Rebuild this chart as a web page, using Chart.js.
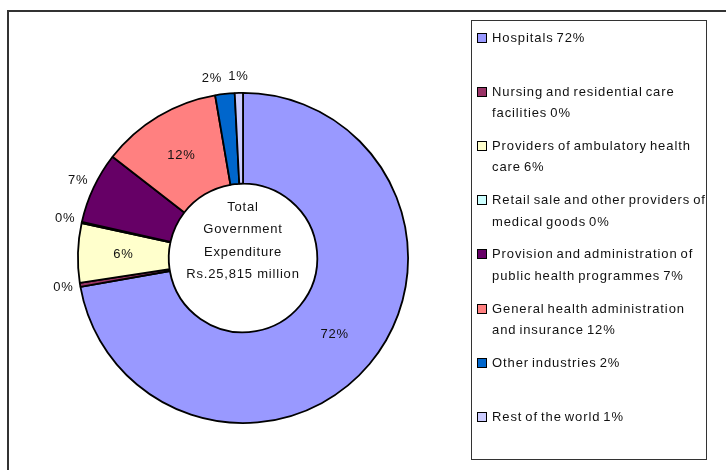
<!DOCTYPE html>
<html>
<head>
<meta charset="utf-8">
<script src="https://cdn.jsdelivr.net/npm/chart.js@4.4.1/dist/chart.umd.min.js"></script>
<style>
  html, body { margin: 0; padding: 0; background: #fff; overflow: hidden; }
  #wrap { position: relative; width: 726px; height: 470px; font-family: "Liberation Sans", Arial, sans-serif; color: #111; }
  #frame { position: absolute; left: 7px; top: 10px; width: 800px; height: 500px; border-top: 2px solid #333; border-left: 2px solid #333; }
  #chart { position: absolute; left: 0; top: 0; }
  #legend { position: absolute; left: 471px; top: 20px; width: 236px; height: 440px; border: 1px solid #333; box-sizing: border-box; }
  .item { position: absolute; left: 5px; width: 232px; font-size: 13px; line-height: 21.5px; letter-spacing: 0.9px; word-spacing: -1.5px; }
  .box { position: absolute; left: 0; top: 6px; width: 8px; height: 8px; border: 1px solid #000; }
  .txt { margin-left: 15px; }
</style>
</head>
<body>
<div id="wrap">
  <div id="frame"></div>
  <canvas id="chart" width="726" height="470"></canvas>
  <div id="legend"></div>
</div>
<script>
// Health expenditure shares (%) of total government expenditure
const categories = [
  'Hospitals',
  'Nursing and residential care facilities',
  'Providers of ambulatory health care',
  'Retail sale and other providers of medical goods',
  'Provision and administration of public health programmes',
  'General health administration and insurance',
  'Other industries',
  'Rest of the world'
];
const shares = [72.2, 0.4, 5.8, 0.1, 7.0, 11.8, 1.9, 0.8];
const centerLines = ['Total', 'Government', 'Expenditure', 'Rs.25,815 million'];

const colors = ['#9999FF', '#993366', '#FFFFCC', '#CCFFFF', '#660066', '#FF8080', '#0066CC', '#CCCCFF'];
const labelInside = [true, false, true, false, false, true, false, false];
const FONT = '"Liberation Sans", Arial, sans-serif';

const pct = v => Math.round(v) + '%';

// legend, one slot per category
const legend = document.getElementById('legend');
categories.forEach((cat, i) => {
  const item = document.createElement('div');
  item.className = 'item';
  item.style.top = (5.5 + 54.2 * i) + 'px';
  item.innerHTML = '<span class="box" style="background:' + colors[i] + '"></span><div class="txt">' + cat + ' ' + pct(shares[i]) + '</div>';
  legend.appendChild(item);
});

const sliceLabels = {
  id: 'sliceLabels',
  afterDatasetsDraw(chart) {
    const ctx = chart.ctx;
    const arcs = chart.getDatasetMeta(0).data;
    ctx.save();
    ctx.fillStyle = '#111';
    ctx.textAlign = 'center';
    ctx.textBaseline = 'middle';
    ctx.font = '13px ' + FONT;
    ctx.letterSpacing = '0.8px';
    const placed = [];
    // walk backwards so the small top slices push their neighbours aside
    for (let i = arcs.length - 1; i >= 0; i--) {
      const p = arcs[i].getProps(['x', 'y', 'startAngle', 'endAngle', 'innerRadius', 'outerRadius'], true);
      let a = (p.startAngle + p.endAngle) / 2;
      const txt = pct(shares[i]);
      const w = ctx.measureText(txt).width, h = 14;
      let x, y;
      if (labelInside[i]) {
        const r = (p.innerRadius + p.outerRadius) / 2;
        x = p.x + Math.cos(a) * r; y = p.y + Math.sin(a) * r;
      } else {
        const r = p.outerRadius + 17;
        for (let k = 0; k < 60; k++) {
          x = p.x + Math.cos(a) * r; y = p.y + Math.sin(a) * r;
          const hit = placed.some(b => Math.abs(b.x - x) < (b.w + w) / 2 + 6 && Math.abs(b.y - y) < h);
          if (!hit) break;
          a -= Math.PI / 360;
        }
        placed.push({x, y, w});
      }
      ctx.fillText(txt, x, y);
    }
    // centre text in the hole
    const c = arcs[0].getProps(['x', 'y'], true);
    const offs = [-51, -29, -6, 16];
    centerLines.forEach((t, k) => ctx.fillText(t, c.x, c.y + offs[k]));
    ctx.restore();
  }
};

new Chart(document.getElementById('chart').getContext('2d'), {
  type: 'doughnut',
  data: {
    labels: categories,
    datasets: [{
      data: shares,
      backgroundColor: colors,
      borderColor: '#000',
      borderWidth: 1.8
    }]
  },
  options: {
    responsive: false,
    animation: false,
    cutout: '45%',
    layout: { padding: { left: 77, top: 92, right: 317, bottom: 46 } },
    plugins: {
      legend: { display: false },
      tooltip: { enabled: false }
    }
  },
  plugins: [sliceLabels]
});
</script>
</body>
</html>
